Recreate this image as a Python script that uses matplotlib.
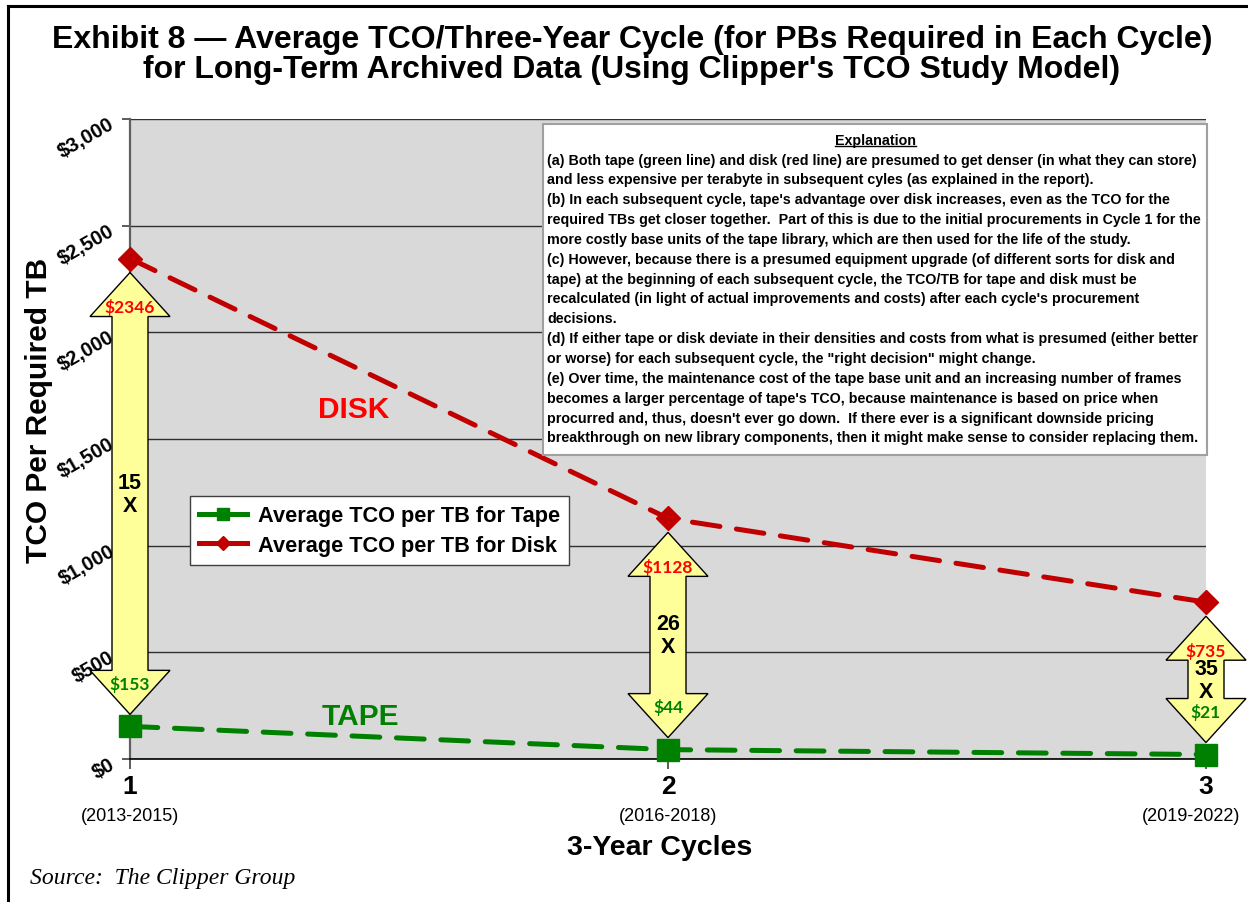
import matplotlib
matplotlib.use("Agg")
import matplotlib.pyplot as plt
from matplotlib import font_manager as fm
from matplotlib.patches import Polygon, Rectangle
from matplotlib.lines import Line2D

# ---------------- data ----------------
cycles = [1, 2, 3]
cycle_years = ["(2013-2015)", "(2016-2018)", "(2019-2022)"]
tape_tco = [153, 44, 21]
disk_tco = [2346, 1128, 735]
y_ticks = [0, 500, 1000, 1500, 2000, 2500, 3000]
y_tick_labels = ["$0", "$500", "$1,000", "$1,500", "$2,000", "$2,500", "$3,000"]
legend_labels = ["Average TCO per TB for Tape", "Average TCO per TB for Disk"]
title_lines = ["Exhibit 8 \u2014 Average TCO/Three-Year Cycle (for PBs Required in Each Cycle)",
               "for Long-Term Archived Data (Using Clipper's TCO Study Model)"]
explanation_title = "Explanation"
explanation_lines = [
    "(a) Both tape (green line) and disk (red line) are presumed to get denser (in what they can store)",
    "and less expensive per terabyte in subsequent cyles (as explained in the report).",
    "(b) In each subsequent cycle, tape's advantage over disk increases, even as the TCO for the",
    "required TBs get closer together.  Part of this is due to the initial procurements in Cycle 1 for the",
    "more costly base units of the tape library, which are then used for the life of the study.",
    "(c) However, because there is a presumed equipment upgrade (of different sorts for disk and",
    "tape) at the beginning of each subsequent cycle, the TCO/TB for tape and disk must be",
    "recalculated (in light of actual improvements and costs) after each cycle's procurement",
    "decisions.",
    "(d) If either tape or disk deviate in their densities and costs from what is presumed (either better",
    "or worse) for each subsequent cycle, the \"right decision\" might change.",
    "(e) Over time, the maintenance cost of the tape base unit and an increasing number of frames",
    "becomes a larger percentage of tape's TCO, because maintenance is based on price when",
    "procurred and, thus, doesn't ever go down.  If there ever is a significant downside pricing",
    "breakthrough on new library components, then it might make sense to consider replacing them.",
]

# ---------------- fonts ----------------
ttfs = fm.fontManager.ttflist
names = {f.name for f in ttfs}
SANS = "Liberation Sans" if "Liberation Sans" in names else "DejaVu Sans"
SERIF = "Liberation Serif" if "Liberation Serif" in names else "DejaVu Serif"
NARROW = "Liberation Sans Narrow" if "Liberation Sans Narrow" in names else SANS
CAL = "Lato" if "Lato" in names else SANS
plt.rcParams["font.family"] = [SANS, "DejaVu Sans"]
plt.rcParams["lines.scale_dashes"] = False

GREEN = "#008000"
DRED = "#C00000"
RED = "#FF0000"

DPI = 100
fig = plt.figure(figsize=(12.48, 9.03), dpi=DPI, facecolor="white")
W, H = 1248, 903
L, R, T, B = 130, 1206, 120, 760
ax = fig.add_axes([L / W, 1 - B / H, (R - L) / W, (B - T) / H])
ax.set_facecolor("#D9D9D9")
ax.set_xlim(1, 3)
ax.set_ylim(0, 3000)
renderer = fig.canvas.get_renderer()

# grid / ticks
ax.set_yticks(y_ticks)
ax.yaxis.grid(True, color="#303030", linewidth=1.0)
ax.set_axisbelow(True)
ax.set_yticklabels([])
ax.tick_params(axis="y", length=6, width=1.2, color="#404040", direction="out")
ax.set_xticks(cycles)
ax.set_xticklabels([])
ax.tick_params(axis="x", length=7, width=1.2, color="#404040", direction="out")
for s in ["top", "right"]:
    ax.spines[s].set_visible(False)
ax.spines["left"].set_color("#606060")
ax.spines["left"].set_linewidth(1.6)
ax.spines["bottom"].set_color("black")
ax.spines["bottom"].set_linewidth(1.2)

# y tick labels rotated
for v, lab in zip(y_ticks, y_tick_labels):
    ax.annotate(lab, xy=(0, v), xycoords=("axes fraction", "data"), xytext=(-17, -3),
                textcoords="offset pixels", rotation=30, rotation_mode="anchor",
                ha="right", va="center", fontsize=14.5, fontweight="bold",
                annotation_clip=False)

# lines
tape_line, = ax.plot(cycles, tape_tco, color=GREEN, lw=3.6, dashes=(20, 12),
                     dash_capstyle="round", marker="s", ms=16, mfc=GREEN, mec=GREEN,
                     zorder=6, clip_on=False)
disk_line, = ax.plot(cycles, disk_tco, color=DRED, lw=3.6, dashes=(20, 12),
                     dash_capstyle="round", marker="D", ms=12.5, mfc=DRED, mec=DRED,
                     zorder=6, clip_on=False)


def to_disp(x, y):
    return ax.transData.transform((x, y))


def to_data(px, py):
    return ax.transData.inverted().transform((px, py))


# double arrows
for x, d, t in zip(cycles, disk_tco, tape_tco):
    cx, ytop = to_disp(x, d)
    _, ybot = to_disp(x, t)
    tip_t = ytop - 14
    tip_b = ybot + 12
    hl, hw, sw = 44, 40, 18
    pts = [(cx, tip_t), (cx + hw, tip_t - hl), (cx + sw, tip_t - hl),
           (cx + sw, tip_b + hl), (cx + hw, tip_b + hl), (cx, tip_b),
           (cx - hw, tip_b + hl), (cx - sw, tip_b + hl), (cx - sw, tip_t - hl),
           (cx - hw, tip_t - hl)]
    dpts = [to_data(px, py) for px, py in pts]
    ax.add_patch(Polygon(dpts, closed=True, facecolor="#FFFF99", edgecolor="black",
                         lw=1.0, zorder=5, clip_on=False))
    ax.text(*to_data(cx, tip_t - 34), f"${d}", color=RED, fontsize=12.5, fontweight="bold",
            family=CAL, ha="center", va="center", zorder=7)
    ax.text(*to_data(cx, tip_b + 31), f"${t}", color=GREEN, fontsize=12.5, fontweight="bold",
            family=CAL, ha="center", va="center", zorder=7)
    mid = (tip_t + tip_b) / 2
    ax.text(*to_data(cx, mid + 11), f"{round(d / t)}", color="black", fontsize=15.5,
            fontweight="bold", ha="center", va="center", zorder=7)
    ax.text(*to_data(cx, mid - 12), "X", color="black", fontsize=15.5,
            fontweight="bold", ha="center", va="center", zorder=7)

# series labels
ax.text(*to_data(354, H - 410), "DISK", color=RED, fontsize=21.5, fontweight="bold",
        ha="center", va="center", zorder=7)
ax.text(*to_data(360, H - 717), "TAPE", color=GREEN, fontsize=21.5, fontweight="bold",
        ha="center", va="center", zorder=7)

# legend
leg = ax.legend([tape_line, disk_line], legend_labels, loc="upper left",
                bbox_to_anchor=((190 - L) / (R - L), (B - 497) / (B - T)),
                frameon=True, fancybox=False, framealpha=1, edgecolor="#404040",
                prop={"family": SANS, "weight": "bold", "size": 15.7},
                handlelength=2.2, handletextpad=0.5, borderpad=0.42, labelspacing=0.4,
                borderaxespad=0, markerscale=0.55)
leg.get_frame().set_linewidth(1.0)
leg.set_zorder(8)
for h in leg.legend_handles:
    h.set_linestyle("-")

# explanation box
bx0, by0, bx1, by1 = 543, 125, 1207, 456
p0 = to_data(bx0, H - by1)
p1 = to_data(bx1, H - by0)
ax.add_patch(Rectangle(p0, p1[0] - p0[0], p1[1] - p0[1], facecolor="white",
                       edgecolor="#A0A0A0", lw=1.5, zorder=8, clip_on=False))

# fit explanation font size to the reference line width
probe = fig.text(0, 0, explanation_lines[0], family=NARROW, fontweight="bold", fontsize=10)
wpx = probe.get_window_extent(renderer).width
probe.remove()
ex_size = min(10 * 647.0 / wpx, 12.0)

t_head = fig.text(876 / W, 1 - 141 / H, explanation_title, ha="center", va="center",
                  family=NARROW, fontweight="bold", fontsize=ex_size, zorder=9)
hb = t_head.get_window_extent(renderer)
fig.add_artist(Line2D([hb.x0 / W, hb.x1 / W], [(hb.y0 + 1) / H, (hb.y0 + 1) / H],
                      color="black", lw=1.0, transform=fig.transFigure, zorder=9))
for i, line in enumerate(explanation_lines):
    fig.text(547 / W, 1 - (160.5 + i * 19.85) / H, line, ha="left", va="center",
             family=NARROW, fontweight="bold", fontsize=ex_size, zorder=9)

# x tick labels
for i, (x, yr) in enumerate(zip(cycles, cycle_years)):
    px, _ = to_disp(x, 0)
    fig.text(px / W, 1 - 787 / H, str(x), ha="center", va="center", fontsize=19,
             fontweight="bold")
    if i == len(cycles) - 1:
        fig.text(1240 / W, 1 - 817 / H, yr, ha="right", va="center", fontsize=13)
    else:
        fig.text(px / W, 1 - 817 / H, yr, ha="center", va="center", fontsize=13)

fig.text(660 / W, 1 - 848 / H, "3-Year Cycles", ha="center", va="center", fontsize=20.5,
         fontweight="bold")
fig.text(39 / W, 1 - 410 / H, "TCO Per Required TB", ha="center", va="center",
         rotation=90, fontsize=21.5, fontweight="bold")
fig.text(632 / W, 1 - 40 / H, title_lines[0], ha="center", va="center", fontsize=23,
         fontweight="bold")
fig.text(632 / W, 1 - 70 / H, title_lines[1], ha="center", va="center", fontsize=23,
         fontweight="bold")
fig.text(30 / W, 1 - 879 / H, "Source:  The Clipper Group", ha="left", va="center",
         family=SERIF, style="italic", fontsize=17)

# figure frame
fig.add_artist(Line2D([8 / W, 8 / W], [0, 1 - 7 / H], color="black", lw=2.2,
                      transform=fig.transFigure))
fig.add_artist(Line2D([8 / W, 1], [1 - 7 / H, 1 - 7 / H], color="black", lw=2.2,
                      transform=fig.transFigure))

fig.savefig("out.png", dpi=DPI, facecolor="white")
